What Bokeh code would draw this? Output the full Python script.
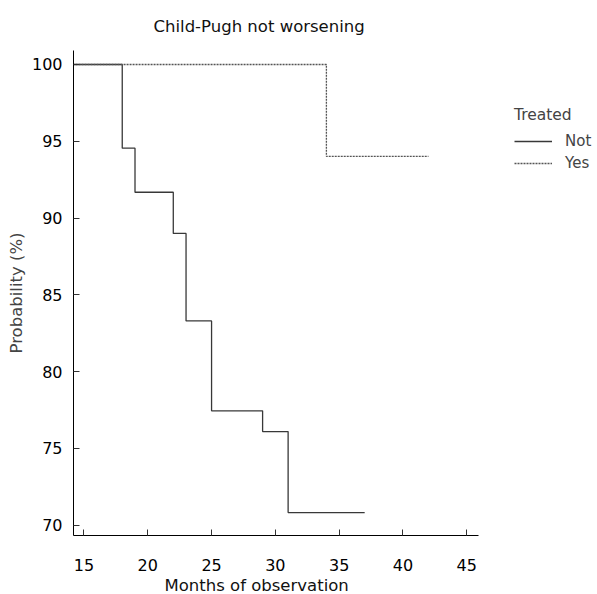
from bokeh.plotting import figure
from bokeh.models import FixedTicker, Range1d, Legend, LegendItem, Title
from bokeh.embed import file_html
from bokeh.resources import INLINE

# Data (Kaplan-Meier style step curves)
not_months = [0, 18, 19, 22, 23, 25, 29, 31, 37]
not_prob = [100, 94.55, 91.68, 89.0, 83.3, 77.45, 76.1, 70.82, 70.82]
yes_months = [0, 34, 42]
yes_prob = [100, 94.02, 94.02]

x_ticks = [15, 20, 25, 30, 35, 40, 45]
y_ticks = [70, 75, 80, 85, 90, 95, 100]

FONT = "DejaVu Sans"

p = figure(
    frame_width=524, frame_height=485,
    min_border_left=73, min_border_right=0, min_border_top=50, min_border_bottom=0,
    output_backend="svg", toolbar_location=None,
    x_range=Range1d(14.18, 14.18 + 524 / 12.76), y_range=Range1d(69.33, 100.91),
)
p.title.text = "Child-Pugh not worsening"
p.title.text_font = FONT
p.title.text_font_size = "16.5px"
p.title.text_font_style = "normal"
p.title.text_color = "#111111"
p.title.align = "left"
p.title.offset = 80
p.title.standoff = 29

p.grid.visible = False
p.outline_line_color = None
p.background_fill_color = "white"
p.border_fill_color = "white"

r_not = p.step(not_months, not_prob, mode="after", line_color="#383838", line_width=1.3)
r_yes = p.step(yes_months, yes_prob, mode="after", line_color="#555555", line_width=1.3,
               line_dash="2 1")

for ax in (p.xaxis[0], p.yaxis[0]):
    ax.major_tick_in = 6
    ax.major_tick_out = 0
    ax.minor_tick_in = 0
    ax.minor_tick_out = 0
    ax.axis_line_color = "black"
    ax.major_tick_line_color = "#333333"
    ax.major_label_text_font = FONT
    ax.major_label_text_font_size = "16px"
    ax.major_label_text_color = "black"
    ax.axis_label_text_font = FONT
    ax.axis_label_text_font_size = "16.5px"
    ax.axis_label_text_font_style = "normal"

p.xaxis.bounds = (14.18, 45.9)
p.xaxis.ticker = FixedTicker(ticks=x_ticks)
p.yaxis.ticker = FixedTicker(ticks=y_ticks)
p.xaxis.major_label_standoff = 23
p.yaxis.major_label_standoff = 11
p.yaxis.axis_label = "Probability (%)"
p.yaxis.axis_label_standoff = 3

xt = Title(text="Months of observation", align="left", offset=91,
           text_font=FONT, text_font_size="16.5px", text_font_style="normal",
           text_color="#111111", standoff=0)
p.add_layout(xt, "below")

legend = Legend(
    items=[LegendItem(label="Not", renderers=[r_not]),
           LegendItem(label="Yes", renderers=[r_yes])],
    title="Treated",
    location=(441, 362),
    title_text_font=FONT, title_text_font_size="15.5px", title_text_font_style="normal",
    title_standoff=7,
    label_text_font=FONT, label_text_font_size="15px",
    glyph_width=38, glyph_height=20, label_height=20, spacing=2,
    label_standoff=13, padding=0, margin=0,
    border_line_color=None, background_fill_alpha=0,
)
p.add_layout(legend, "center")

open("out.html", "w").write(file_html(p, INLINE))
